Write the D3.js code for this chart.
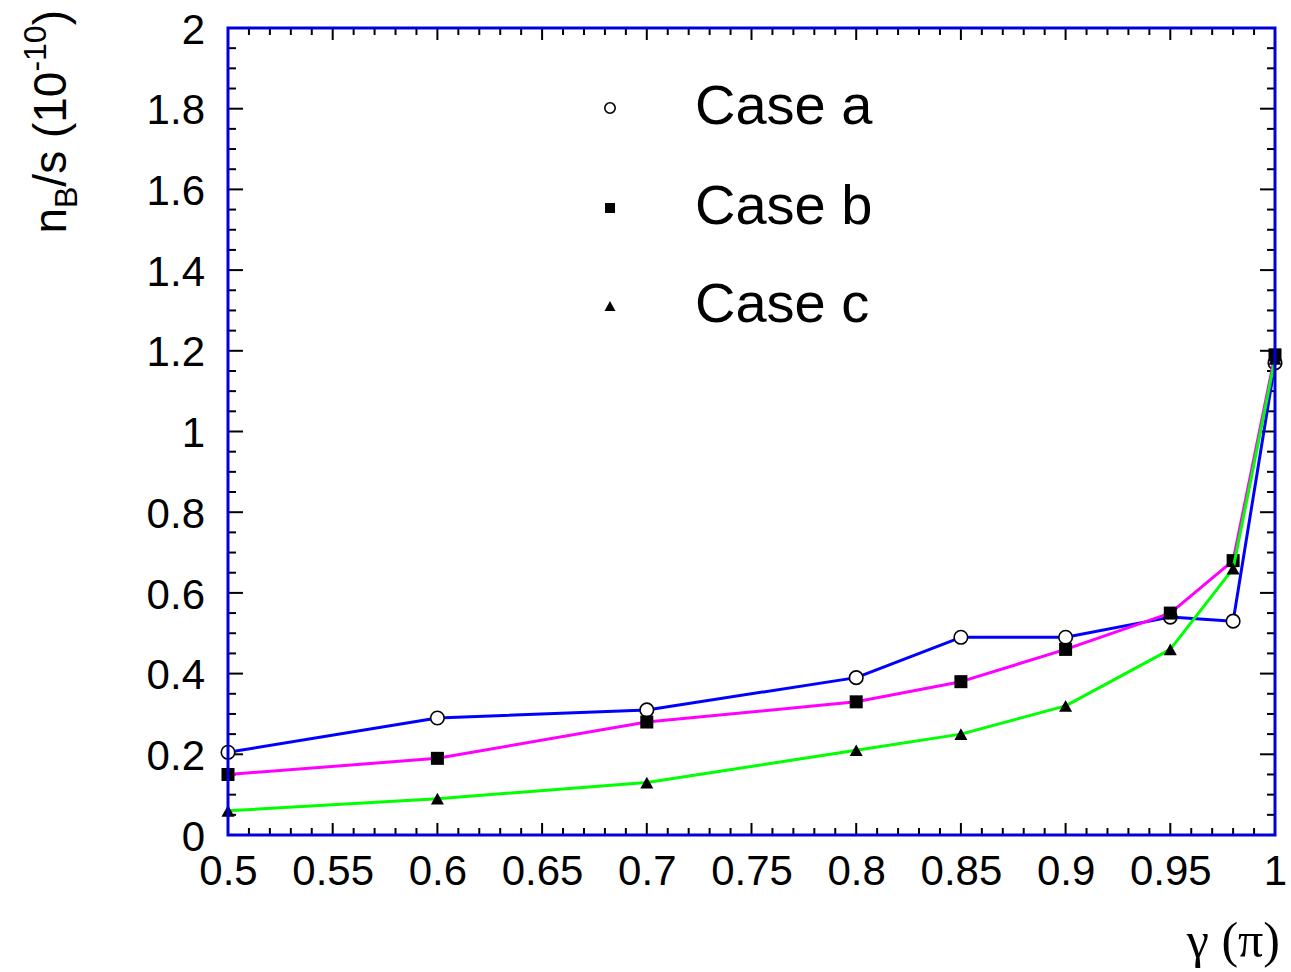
<!DOCTYPE html>
<html>
<head>
<meta charset="utf-8">
<script src="https://cdn.jsdelivr.net/npm/d3@7"></script>
<style>
  html, body { margin: 0; padding: 0; background: #fff; }
  svg { display: block; }
  text { fill: #000; }
</style>
</head>
<body>
<svg id="chart" width="1291" height="972" font-family="Liberation Sans, Arial, Helvetica, sans-serif"></svg>
<script>
// gamma values (in units of pi)
const gamma = [0.5, 0.6, 0.7, 0.8, 0.85, 0.9, 0.95, 0.98, 1.0];
// baryon-to-entropy ratio n_B/s in units of 1e-10
const caseA = [0.205, 0.29, 0.31, 0.39, 0.49, 0.49, 0.54, 0.53, 1.17];
const caseB = [0.15, 0.19, 0.28, 0.33, 0.38, 0.46, 0.55, 0.68, 1.19];
const caseC = [0.06, 0.09, 0.13, 0.21, 0.25, 0.32, 0.46, 0.66, 1.18];
const seriesNames = ["Case a", "Case b", "Case c"];
const xTickLabels = ["0.5", "0.55", "0.6", "0.65", "0.7", "0.75", "0.8", "0.85", "0.9", "0.95", "1"];
const yTickLabels = ["0", "0.2", "0.4", "0.6", "0.8", "1", "1.2", "1.4", "1.6", "1.8", "2"];

const svg = d3.select("#chart");
const L = 228, R = 1275, T = 28, B = 835;

const x = d3.scaleLinear().domain([0.5, 1.0]).range([L, R]);
const y = d3.scaleLinear().domain([0, 2]).range([B, T]);

const xMajor = xTickLabels.map(Number);
const yMajor = yTickLabels.map(Number);
const xMinor = d3.range(50, 101).map(v => v / 100).filter(v => !xMajor.some(m => Math.abs(m - v) < 1e-9));
const yMinor = d3.range(0, 41).map(v => v * 0.05).filter(v => !yMajor.some(m => Math.abs(m - v) < 1e-9));

const gTicks = svg.append("g").attr("stroke", "#000").attr("stroke-width", 2);

// bottom & top axes: inward ticks
function xTicks(vals, len) {
  vals.forEach(v => {
    gTicks.append("line").attr("x1", x(v)).attr("x2", x(v)).attr("y1", B).attr("y2", B - len);
    gTicks.append("line").attr("x1", x(v)).attr("x2", x(v)).attr("y1", T).attr("y2", T + len);
  });
}
// left & right axes: inward ticks
function yTicks(vals, len) {
  vals.forEach(v => {
    gTicks.append("line").attr("x1", L).attr("x2", L + len).attr("y1", y(v)).attr("y2", y(v));
    gTicks.append("line").attr("x1", R).attr("x2", R - len).attr("y1", y(v)).attr("y2", y(v));
  });
}
xTicks(xMajor, 12);
xTicks(xMinor, 7);
yTicks(yMajor, 15);
yTicks(yMinor, 8);

// tick labels via d3 axes with no tick lines
const xAxis = d3.axisBottom(x).tickValues(xMajor).tickSize(0).tickPadding(0)
  .tickFormat((d, i) => xTickLabels[i]);
const gx = svg.append("g").attr("transform", `translate(0,${B})`).call(xAxis);
gx.select(".domain").remove();
gx.attr("font-family", null).attr("font-size", null);
gx.selectAll("text").style("font-size", "42px").attr("fill", "#000").attr("dy", null).attr("y", 50);

const yAxis = d3.axisLeft(y).tickValues(yMajor).tickSize(0).tickPadding(0)
  .tickFormat((d, i) => yTickLabels[i]);
const gy = svg.append("g").attr("transform", `translate(${L},0)`).call(yAxis);
gy.select(".domain").remove();
gy.attr("font-family", null).attr("font-size", null);
gy.selectAll("text").style("font-size", "42px").attr("fill", "#000").attr("x", -23).attr("dy", "0.36em");

// series
const series = [
  { name: seriesNames[0], vals: caseA, color: "#0000ff", marker: "circle" },
  { name: seriesNames[1], vals: caseB, color: "#ff00ff", marker: "square" },
  { name: seriesNames[2], vals: caseC, color: "#00ff00", marker: "triangle" }
];

function drawMarker(g, type, cx, cy, s) {
  if (type === "circle") {
    g.append("circle").attr("cx", cx).attr("cy", cy).attr("r", s * 0.52)
      .attr("fill", "#fff").attr("stroke", "#000").attr("stroke-width", 1.6);
  } else if (type === "square") {
    g.append("rect").attr("x", cx - s / 2).attr("y", cy - s / 2).attr("width", s).attr("height", s)
      .attr("fill", "#000");
  } else {
    const h = s * 0.9;
    g.append("path").attr("d", `M${cx - s / 2},${cy + h / 2}L${cx + s / 2},${cy + h / 2}L${cx},${cy - h / 2}Z`)
      .attr("fill", "#000");
  }
}

const line = d3.line().x(d => x(d[0])).y(d => y(d[1]));
const gData = svg.append("g");
series.forEach(s => {
  const pts = gamma.map((g, i) => [g, s.vals[i]]);
  gData.append("path").datum(pts).attr("d", line)
    .attr("fill", "none").attr("stroke", s.color).attr("stroke-width", 3).attr("stroke-linejoin", "round");
  const gm = gData.append("g");
  pts.forEach(p => drawMarker(gm, s.marker, x(p[0]), y(p[1]), 13));
});

// frame
svg.append("rect").attr("x", L).attr("y", T).attr("width", R - L).attr("height", B - T)
  .attr("fill", "none").attr("stroke", "#0000dd").attr("stroke-width", 3);

// legend
const legY = [104, 204, 302];
series.forEach((s, i) => {
  const gl = svg.append("g");
  drawMarker(gl, s.marker, 610, legY[i] + 4, i === 2 ? 11 : 10);
  gl.append("text").attr("x", 695).attr("y", legY[i] + 20).style("font-size", "56px").text(s.name);
});

// axis titles
svg.append("text").attr("x", 1280).attr("y", 957).attr("text-anchor", "end")
  .style("font-family", "'Liberation Serif', 'Times New Roman', serif").style("font-size", "50px")
  .text("\u03B3 (\u03C0)");

const yt = svg.append("text").attr("transform", "translate(66,10) rotate(-90)")
  .attr("text-anchor", "end").style("font-size", "46px");
yt.append("tspan").text("n");
yt.append("tspan").style("font-size", "32px").attr("dy", 11).text("B");
yt.append("tspan").attr("dy", -11).text("/s (10");
yt.append("tspan").style("font-size", "32px").attr("dy", -20).text("-10");
yt.append("tspan").attr("dy", 20).text(")");
</script>
</body>
</html>
